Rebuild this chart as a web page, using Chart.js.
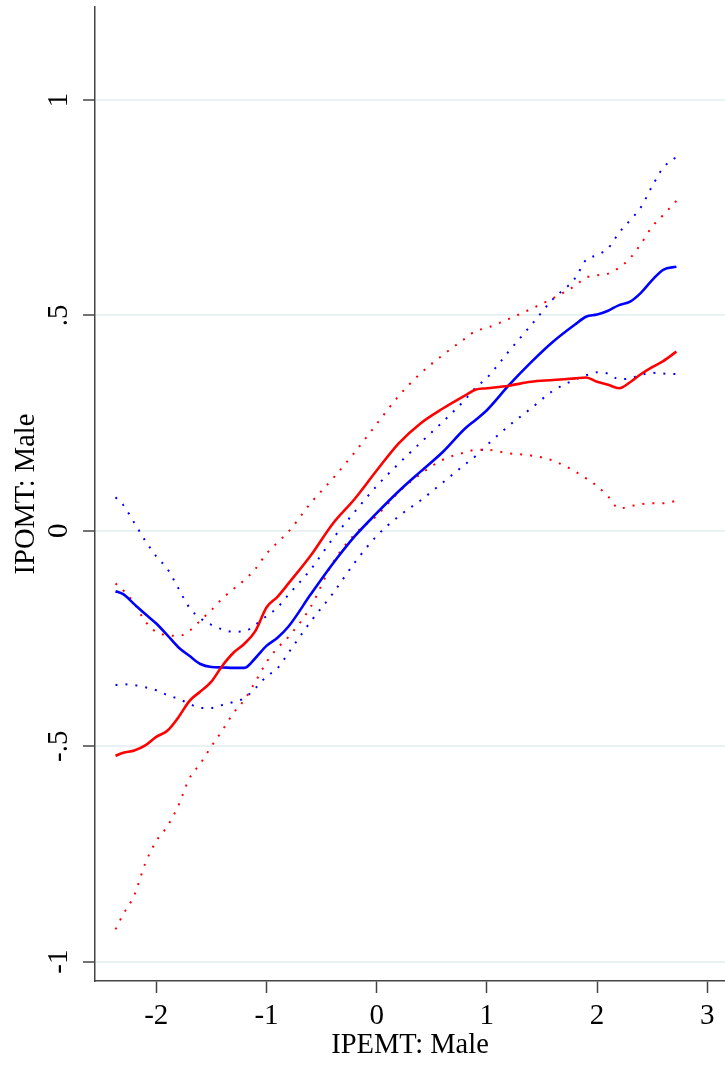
<!DOCTYPE html>
<html>
<head>
<meta charset="utf-8">
<script src="https://cdn.jsdelivr.net/npm/chart.js@4.4.0/dist/chart.umd.min.js"></script>
<style>
  html, body { margin: 0; padding: 0; background: #ffffff; }
  #wrap { width: 725px; height: 1065px; position: relative; }
  canvas { display: block; }
</style>
</head>
<body>
<div id="wrap"><canvas id="c" width="725" height="1065"></canvas></div>
<script>
// ---- data ----
const xValues = [-2.37, -2.3, -2.2, -2.1, -2.0, -1.9, -1.8, -1.7, -1.6, -1.5, -1.4, -1.3, -1.2, -1.1, -1.0, -0.9, -0.8, -0.6, -0.4, -0.2, 0, 0.2, 0.4, 0.6, 0.8, 0.9, 1.0, 1.2, 1.4, 1.6, 1.8, 1.9, 2.0, 2.1, 2.2, 2.3, 2.4, 2.5, 2.6, 2.72];

const blueFit   = [-0.140, -0.147, -0.170, -0.193, -0.215, -0.242, -0.270, -0.290, -0.309, -0.316, -0.317, -0.318, -0.318, -0.295, -0.267, -0.248, -0.222, -0.148, -0.077, -0.013, 0.041, 0.092, 0.138, 0.183, 0.237, 0.258, 0.280, 0.338, 0.391, 0.439, 0.479, 0.497, 0.502, 0.511, 0.524, 0.532, 0.553, 0.582, 0.606, 0.613];
const blueUpper = [0.078, 0.060, 0.019, -0.023, -0.059, -0.088, -0.133, -0.178, -0.203, -0.218, -0.229, -0.234, -0.233, -0.218, -0.198, -0.178, -0.148, -0.090, -0.019, 0.044, 0.104, 0.156, 0.205, 0.253, 0.304, 0.333, 0.355, 0.417, 0.477, 0.538, 0.586, 0.629, 0.640, 0.656, 0.692, 0.721, 0.752, 0.800, 0.843, 0.868];
const blueLower = [-0.358, -0.356, -0.358, -0.363, -0.370, -0.381, -0.390, -0.401, -0.411, -0.411, -0.404, -0.397, -0.388, -0.365, -0.338, -0.319, -0.283, -0.211, -0.146, -0.074, -0.012, 0.034, 0.071, 0.112, 0.154, 0.174, 0.199, 0.244, 0.284, 0.325, 0.351, 0.361, 0.368, 0.365, 0.352, 0.354, 0.362, 0.367, 0.365, 0.364];

const redFit    = [-0.522, -0.515, -0.510, -0.498, -0.478, -0.464, -0.433, -0.395, -0.373, -0.350, -0.313, -0.283, -0.262, -0.232, -0.178, -0.153, -0.122, -0.058, 0.016, 0.074, 0.140, 0.203, 0.250, 0.284, 0.314, 0.328, 0.331, 0.337, 0.346, 0.350, 0.354, 0.356, 0.346, 0.339, 0.331, 0.345, 0.364, 0.380, 0.394, 0.416];
const redUpper  = [-0.122, -0.138, -0.168, -0.210, -0.235, -0.242, -0.244, -0.232, -0.208, -0.184, -0.157, -0.135, -0.114, -0.088, -0.053, -0.027, -0.002, 0.064, 0.121, 0.182, 0.248, 0.313, 0.366, 0.408, 0.446, 0.464, 0.471, 0.492, 0.515, 0.540, 0.569, 0.588, 0.593, 0.597, 0.611, 0.633, 0.667, 0.706, 0.733, 0.766];
const redLower  = [-0.925, -0.890, -0.846, -0.772, -0.720, -0.686, -0.638, -0.575, -0.540, -0.500, -0.463, -0.423, -0.392, -0.350, -0.305, -0.272, -0.246, -0.177, -0.075, -0.008, 0.035, 0.090, 0.132, 0.165, 0.182, 0.188, 0.188, 0.180, 0.175, 0.163, 0.138, 0.122, 0.104, 0.080, 0.052, 0.057, 0.062, 0.064, 0.064, 0.070];

const xTickValues = [-2, -1, 0, 1, 2, 3];
const xTickLabels = ['-2', '-1', '0', '1', '2', '3'];
const yTickValues = [-1, -0.5, 0, 0.5, 1];
const yTickLabels = ['-1', '-.5', '0', '.5', '1'];

const xTitle = 'IPEMT: Male';
const yTitle = 'IPOMT: Male';

// ---- chart ----
const SERIF = '"Liberation Serif", "Times New Roman", serif';
const pts = arr => xValues.map((x, i) => ({ x: x, y: arr[i] }));
const solid = (data, color) => ({
  data: pts(data), borderColor: color, borderWidth: 2.6, pointRadius: 0,
  fill: false, cubicInterpolationMode: 'monotone'
});
const dotted = (data, color) => ({
  data: pts(data), borderColor: color, borderWidth: 2, borderDash: [2, 8],
  pointRadius: 0, fill: false, cubicInterpolationMode: 'monotone'
});

new Chart(document.getElementById('c'), {
  type: 'line',
  data: {
    datasets: [
      solid(redFit, '#ff0000'),
      solid(blueFit, '#0000ff'),
      dotted(redUpper, '#ff0000'),
      dotted(redLower, '#ff0000'),
      dotted(blueUpper, '#0000ff'),
      dotted(blueLower, '#0000ff')
    ]
  },
  options: {
    responsive: false,
    animation: false,
    events: [],
    layout: { padding: { top: 7, right: 0, bottom: 0, left: 0 } },
    plugins: { legend: { display: false }, tooltip: { enabled: false } },
    scales: {
      x: {
        type: 'linear',
        min: -2.556,
        max: 3.161,
        afterBuildTicks: s => { s.ticks = xTickValues.map(v => ({ value: v })); },
        afterFit: s => { s.height = 84; s.paddingLeft = 0; s.paddingRight = 0; },
        ticks: {
          callback: (v) => { const i = xTickValues.indexOf(v); return i >= 0 ? xTickLabels[i] : ''; },
          font: { family: SERIF, size: 29 },
          color: '#000000',
          padding: 6,
          maxRotation: 0,
          autoSkip: false
        },
        grid: {
          display: true,
          drawOnChartArea: false,
          drawTicks: true,
          tickLength: 12,
          tickColor: '#444444',
          tickWidth: 1.5
        },
        border: { display: true, color: '#444444', width: 1.5 },
        title: {
          display: true,
          text: xTitle,
          font: { family: SERIF, size: 28.5, lineHeight: 1 },
          color: '#000000',
          padding: { top: 0, bottom: 5 }
        }
      },
      y: {
        type: 'linear',
        min: -1.0448,
        max: 1.2159,
        afterBuildTicks: s => { s.ticks = yTickValues.map(v => ({ value: v })); },
        afterFit: s => { s.width = 95; s.paddingTop = 0; s.paddingBottom = 0; },
        ticks: {
          callback: (v) => { const i = yTickValues.indexOf(v); return i >= 0 ? yTickLabels[i] : ''; },
          font: { family: SERIF, size: 29 },
          color: '#000000',
          minRotation: 90,
          maxRotation: 90,
          crossAlign: 'center',
          padding: 8,
          autoSkip: false
        },
        grid: {
          display: true,
          drawOnChartArea: true,
          color: '#e9f1f3',
          lineWidth: 2,
          drawTicks: true,
          tickLength: 12,
          tickColor: '#444444',
          tickWidth: 1.5
        },
        border: { display: true, color: '#444444', width: 1.5 },
        title: {
          display: true,
          text: yTitle,
          font: { family: SERIF, size: 28.5, lineHeight: 1 },
          color: '#000000',
          padding: { top: 12, bottom: 0 }
        }
      }
    }
  }
});
</script>
</body>
</html>
